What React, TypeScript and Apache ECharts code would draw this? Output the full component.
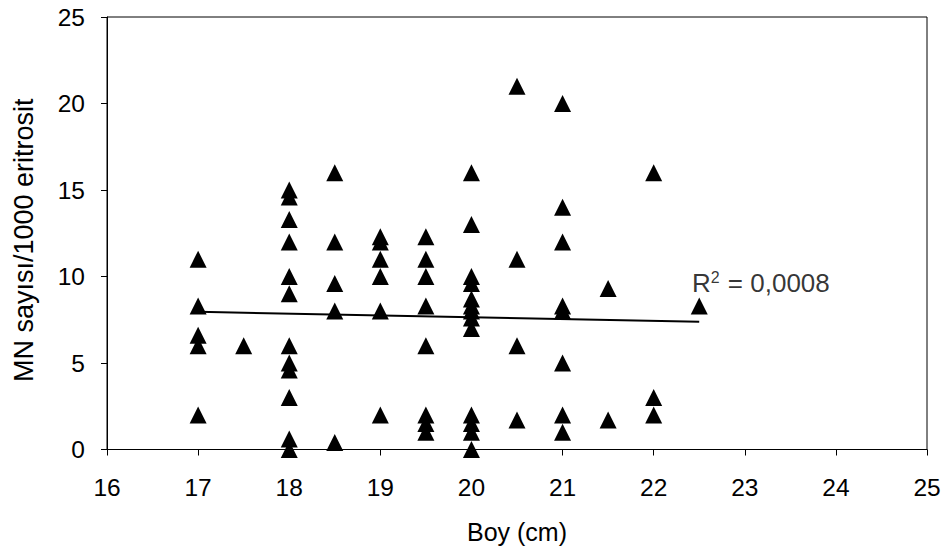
import React, { useEffect, useRef } from "react";
import * as echarts from "echarts";

// Boy (cm) of each fish
const boyValues = [
  17, 17, 17, 17, 17,
  17.5,
  18, 18, 18, 18, 18, 18, 18, 18, 18, 18, 18, 18,
  18.5, 18.5, 18.5, 18.5, 18.5,
  19, 19, 19, 19, 19, 19,
  19.5, 19.5, 19.5, 19.5, 19.5, 19.5, 19.5, 19.5,
  20, 20, 20, 20, 20, 20, 20, 20, 20, 20, 20, 20, 20,
  20.5, 20.5, 20.5, 20.5,
  21, 21, 21, 21, 21, 21, 21, 21,
  21.5, 21.5,
  22, 22, 22,
  22.5,
];

// MN sayısı / 1000 eritrosit of each fish
const mnValues = [
  11, 8.3, 6.6, 6, 2,
  6,
  15, 14.6, 13.3, 12, 10, 9, 6, 5, 4.6, 3, 0.6, 0,
  16, 12, 9.6, 8, 0.4,
  12.3, 12, 11, 10, 8, 2,
  12.3, 11, 10, 8.3, 6, 2, 1.5, 1,
  16, 13, 10, 9.6, 8.7, 8.3, 8, 7.6, 7, 2, 1.5, 1, 0,
  21, 11, 6, 1.7,
  20, 14, 12, 8.3, 8, 5, 2, 1,
  9.3, 1.7,
  16, 3, 2,
  8.3,
];

// Linear trend line end points
const trendX = [17, 22.5];
const trendY = [7.96, 7.38];

// R² annotation
const rSquaredValue = "0,0008";
const rLabelAnchor = [22.42, 9.6];

const xAxisName = "Boy (cm)";
const yAxisName = "MN sayısı/1000 eritrosit";

const FONT = "'Liberation Sans', Arial, Helvetica, sans-serif";

export default function App() {
  const ref = useRef<HTMLDivElement>(null);

  useEffect(() => {
    if (!ref.current) return;
    const chart = echarts.init(ref.current, undefined, { renderer: "svg" });

    const points = boyValues.map((x, i) => [x, mnValues[i]]);
    const trend = trendX.map((x, i) => [x, trendY[i]]);

    chart.setOption({
      animation: false,
      backgroundColor: "#ffffff",
      textStyle: { fontFamily: FONT, color: "#000" },
      grid: {
        left: 107,
        top: 17,
        width: 820,
        height: 432.5,
        show: true,
        borderColor: "#000",
        borderWidth: 1,
        backgroundColor: "transparent",
      },
      xAxis: {
        type: "value",
        min: 16,
        max: 25,
        interval: 1,
        name: xAxisName,
        nameLocation: "middle",
        nameGap: 70,
        nameTextStyle: { fontSize: 25, color: "#000", fontFamily: FONT },
        axisLine: { show: true, onZero: false, lineStyle: { color: "#000", width: 1 } },
        axisTick: { show: true, length: 6, lineStyle: { color: "#000" } },
        axisLabel: { fontSize: 24.5, color: "#000", margin: 25, fontFamily: FONT },
        splitLine: { show: false },
      },
      yAxis: {
        type: "value",
        min: 0,
        max: 25,
        interval: 5,
        name: yAxisName,
        nameLocation: "middle",
        nameGap: 70,
        nameTextStyle: {
          fontSize: 27,
          color: "#000",
          fontFamily: FONT,
          padding: [0, 14, 0, 0],
        },
        axisLine: { show: true, onZero: false, lineStyle: { color: "#000", width: 1 } },
        axisTick: { show: true, length: 6, lineStyle: { color: "#000" } },
        axisLabel: { fontSize: 24.5, color: "#000", margin: 22, fontFamily: FONT },
        splitLine: { show: false },
      },
      series: [
        {
          type: "line",
          data: trend,
          symbol: "none",
          lineStyle: { color: "#000", width: 2 },
          z: 2,
          silent: true,
        },
        {
          type: "scatter",
          data: points,
          symbol: "triangle",
          symbolSize: 17,
          itemStyle: { color: "#000", opacity: 1 },
          z: 3,
        },
        {
          type: "scatter",
          data: [rLabelAnchor],
          symbolSize: 0,
          silent: true,
          label: {
            show: true,
            position: "right",
            distance: 0,
            formatter: "{r|R}{s|2}{r| = " + rSquaredValue + "}",
            rich: {
              r: { fontSize: 26, color: "#000", fontFamily: FONT },
              s: { fontSize: 16, color: "#000", fontFamily: FONT, verticalAlign: "top", padding: [0, 1, 12, 0] },
            },
          },
          z: 4,
        },
      ],
    });

    return () => chart.dispose();
  }, []);

  return (
    <div
      ref={ref}
      style={{ position: "absolute", left: 0, top: 0, width: 946, height: 552 }}
    />
  );
}
